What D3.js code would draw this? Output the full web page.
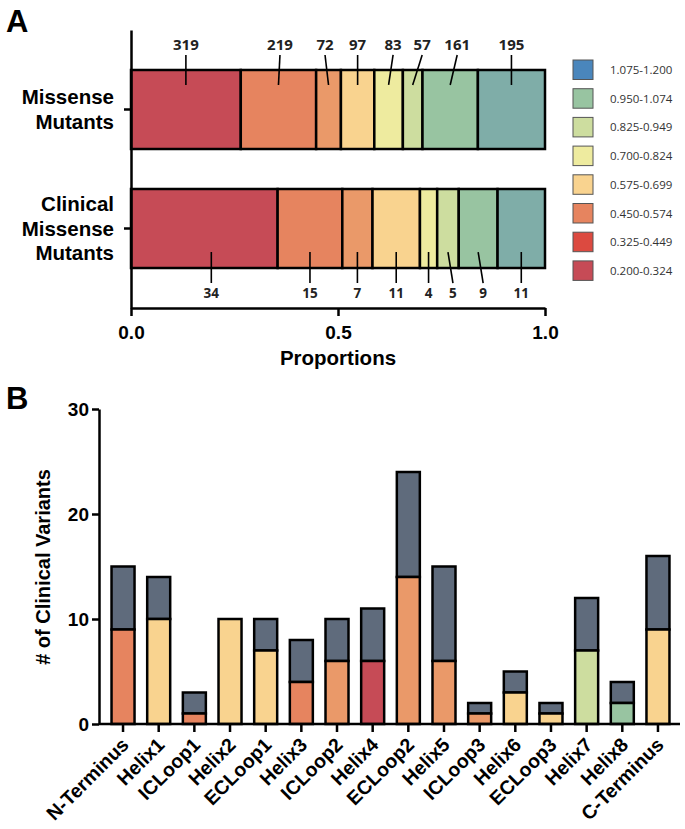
<!DOCTYPE html>
<html>
<head>
<meta charset="utf-8">
<script src="https://cdn.jsdelivr.net/npm/d3@7"></script>
<style>
  body { margin: 0; background: #fff; }
  svg { display: block; }
</style>
</head>
<body>
<svg id="chart" width="685" height="829"></svg>
<script>
// ---------------- DATA ----------------
// Panel A
const groups = ["Missense Mutants", "Clinical Missense Mutants"];
const groupLines = [["Missense", "Mutants"], ["Clinical", "Missense", "Mutants"]];
const segmentClasses = ["darkred", "orange", "lightorange", "peach", "yellow", "lightgreen", "green", "teal"];
const missenseCounts = [319, 219, 72, 97, 83, 57, 161, 195];
const clinicalCounts = [34, 15, 7, 11, 4, 5, 9, 11];
const propTicks = [0, 0.5, 1.0];

// Legend
const legendLabels = ["1.075-1.200", "0.950-1.074", "0.825-0.949", "0.700-0.824",
                      "0.575-0.699", "0.450-0.574", "0.325-0.449", "0.200-0.324"];
const legendClasses = ["blue", "green", "lightgreen", "yellow", "peach", "orange", "red", "darkred"];

// Panel B
const regions = ["N-Terminus", "Helix1", "ICLoop1", "Helix2", "ECLoop1", "Helix3", "ICLoop2", "Helix4",
                 "ECLoop2", "Helix5", "ICLoop3", "Helix6", "ECLoop3", "Helix7", "Helix8", "C-Terminus"];
const coloredCounts = [9, 10, 1, 10, 7, 4, 6, 6, 14, 6, 1, 3, 1, 7, 2, 9];
const totalCounts   = [15, 14, 3, 10, 10, 8, 10, 11, 24, 15, 2, 5, 2, 12, 4, 16];
const coloredClass  = ["orange", "peach", "orange", "peach", "peach", "orange", "lightorange", "darkred",
                       "lightorange", "lightorange", "lightorange", "peach", "peach", "lightgreen", "green", "peach"];
const countTicks = [0, 10, 20, 30];

// ---------------- STYLE ----------------
const palette = {
  darkred: "#c64b56", red: "#dc4a40", orange: "#e6845f", lightorange: "#ea9969",
  peach: "#f9d38f", yellow: "#eeeb9f", lightgreen: "#cddd9f", green: "#98c4a1",
  teal: "#7fada8", blue: "#4a86bc", gray: "#5f6b7c"
};
// label nudges (layout only, pixels)
const missLabelNudge = [0, 1.5, -3.5, 0, 4.5, 9.5, 7, 0];
const clinAnchorNudge = [7, 0, 0, 0, 0, 0, 0, 0];
const clinLabelNudge = [7, 0, 0, 0, 0, 5, 5, 0];

const boldFont = "'Liberation Sans', Arial, sans-serif";
const numFont = "'Open Sans', 'Liberation Sans', sans-serif";

const svg = d3.select("#chart");

// ---------------- PANEL A ----------------
svg.append("text").attr("x", 6).attr("y", 32).text("A")
  .attr("font-family", boldFont).attr("font-weight", "bold").attr("font-size", 31);

const xA = d3.scaleLinear().domain([0, 1]).range([131, 545]);
const yA = d3.scaleBand().domain(groups).range([30, 308]).paddingInner(0.336).paddingOuter(0.336);

function stackProps(counts) {
  const total = d3.sum(counts);
  let cum = 0;
  return counts.map((c, i) => {
    const s = { i, count: c, x0: cum / total, x1: (cum + c) / total };
    cum += c;
    return s;
  });
}
const stacksA = [stackProps(missenseCounts), stackProps(clinicalCounts)];

const gA = svg.append("g");
stacksA.forEach((stack, gi) => {
  const y0 = yA(groups[gi]);
  gA.selectAll(null).data(stack).enter().append("rect")
    .attr("x", d => xA(d.x0)).attr("y", y0)
    .attr("width", d => xA(d.x1) - xA(d.x0)).attr("height", yA.bandwidth())
    .attr("fill", d => palette[segmentClasses[d.i]])
    .attr("stroke", "#000").attr("stroke-width", 2.5);
});

// Missense labels (above)
{
  const y0 = yA(groups[0]);
  const stack = stacksA[0];
  stack.forEach(d => {
    const cx = (xA(d.x0) + xA(d.x1)) / 2;
    const lx = cx + missLabelNudge[d.i];
    gA.append("line").attr("x1", lx).attr("y1", y0 - 15).attr("x2", cx).attr("y2", y0 + 15)
      .attr("stroke", "#000").attr("stroke-width", 1.6);
    gA.append("text").attr("x", lx).attr("y", y0 - 20).attr("text-anchor", "middle")
      .attr("font-family", numFont).attr("font-weight", 700).attr("font-size", 15)
      .attr("fill", "#222").text(d.count);
  });
}
// Clinical labels (below)
{
  const y1 = yA(groups[1]) + yA.bandwidth();
  const stack = stacksA[1];
  stack.forEach(d => {
    const cx = (xA(d.x0) + xA(d.x1)) / 2;
    const ax = cx + clinAnchorNudge[d.i];
    const lx = cx + clinLabelNudge[d.i];
    gA.append("line").attr("x1", ax).attr("y1", y1 - 16).attr("x2", lx).attr("y2", y1 + 15)
      .attr("stroke", "#000").attr("stroke-width", 1.6);
    gA.append("text").attr("x", lx).attr("y", y1 + 30).attr("text-anchor", "middle")
      .attr("font-family", numFont).attr("font-weight", 700).attr("font-size", 13.5)
      .attr("fill", "#222").text(d.count);
  });
}

// axes A
const axAx = gA.append("g").attr("transform", "translate(0,308)")
  .call(d3.axisBottom(xA).tickValues(propTicks).tickFormat(d3.format(".1f")).tickSize(8).tickSizeOuter(0));
axAx.select(".domain").attr("stroke-width", 2.5);
axAx.selectAll(".tick line").attr("stroke-width", 2.5);
axAx.selectAll(".tick text").attr("font-family", boldFont).attr("font-weight", "bold")
  .attr("font-size", 19).attr("fill", "#000").attr("dy", "1.05em");
gA.append("text").attr("x", 338).attr("y", 365).attr("text-anchor", "middle")
  .attr("font-family", boldFont).attr("font-weight", "bold").attr("font-size", 20.5).text("Proportions");

const ayAx = gA.append("g").attr("transform", "translate(131,0)")
  .call(d3.axisLeft(yA).tickSize(7).tickSizeOuter(0).tickFormat(""));
ayAx.select(".domain").attr("stroke-width", 2.5);
ayAx.selectAll(".tick line").attr("stroke-width", 2.5);
groups.forEach((g, gi) => {
  const lines = groupLines[gi];
  const cy = yA(g) + yA.bandwidth() / 2;
  const lh = 24.5;
  const t = gA.append("text").attr("text-anchor", "end")
    .attr("font-family", boldFont).attr("font-weight", "bold").attr("font-size", 20.5);
  lines.forEach((ln, li) => {
    t.append("tspan").attr("x", 114)
      .attr("y", cy + (li - (lines.length - 1) / 2) * lh + 7).text(ln);
  });
});

// legend
const gL = svg.append("g");
legendLabels.forEach((lab, i) => {
  const y = 60 + i * 28.7;
  gL.append("rect").attr("x", 573).attr("y", y).attr("width", 20).attr("height", 19.5)
    .attr("fill", palette[legendClasses[i]]).attr("stroke", "#555").attr("stroke-width", 1);
  gL.append("text").attr("x", 610).attr("y", y + 14).text(lab)
    .attr("font-family", numFont).attr("font-size", 11.5).attr("fill", "#333");
});

// ---------------- PANEL B ----------------
svg.append("text").attr("x", 6).attr("y", 409).text("B")
  .attr("font-family", boldFont).attr("font-weight", "bold").attr("font-size", 31);

const xB = d3.scaleBand().domain(regions).range([105.2, 675.8]).paddingInner(0.355).paddingOuter(0.1775);
const yB = d3.scaleLinear().domain([0, 30]).range([724, 409]);

const gB = svg.append("g");
const barData = regions.map((r, i) => ({ r, i, c: coloredCounts[i], t: totalCounts[i] }));
// gray (remaining) segment
gB.selectAll(null).data(barData.filter(d => d.t > d.c)).enter().append("rect")
  .attr("x", d => xB(d.r)).attr("y", d => yB(d.t))
  .attr("width", xB.bandwidth()).attr("height", d => yB(d.c) - yB(d.t))
  .attr("fill", palette.gray).attr("stroke", "#000").attr("stroke-width", 2.5);
// colored segment
gB.selectAll(null).data(barData).enter().append("rect")
  .attr("x", d => xB(d.r)).attr("y", d => yB(d.c))
  .attr("width", xB.bandwidth()).attr("height", d => yB(0) - yB(d.c))
  .attr("fill", d => palette[coloredClass[d.i]]).attr("stroke", "#000").attr("stroke-width", 2.5);

const byAx = gB.append("g").attr("transform", "translate(99,0)")
  .call(d3.axisLeft(yB).tickValues(countTicks).tickSize(7).tickSizeOuter(0));
byAx.select(".domain").attr("stroke-width", 2.5);
byAx.selectAll(".tick line").attr("stroke-width", 2.5);
byAx.selectAll(".tick text").attr("font-family", boldFont).attr("font-weight", "bold")
  .attr("font-size", 19).attr("fill", "#000").attr("x", -10).attr("dy", "0.36em");

const bxAx = gB.append("g").attr("transform", "translate(0,724)")
  .call(d3.axisBottom(xB).tickSize(8).tickSizeOuter(0));
bxAx.select(".domain").attr("d", "M99,0H680").attr("stroke-width", 2.5);
bxAx.selectAll(".tick line").attr("stroke-width", 2.5);
bxAx.selectAll(".tick text").attr("font-family", boldFont).attr("font-weight", "bold")
  .attr("font-size", 19.5).attr("fill", "#000")
  .attr("text-anchor", "end").attr("dy", null).attr("y", 0)
  .attr("transform", "translate(7,22) rotate(-45)");

gB.append("text").attr("transform", "translate(50,567) rotate(-90)")
  .attr("text-anchor", "middle").attr("font-family", boldFont).attr("font-weight", "bold")
  .attr("font-size", 20).text("# of Clinical Variants");
</script>
</body>
</html>
